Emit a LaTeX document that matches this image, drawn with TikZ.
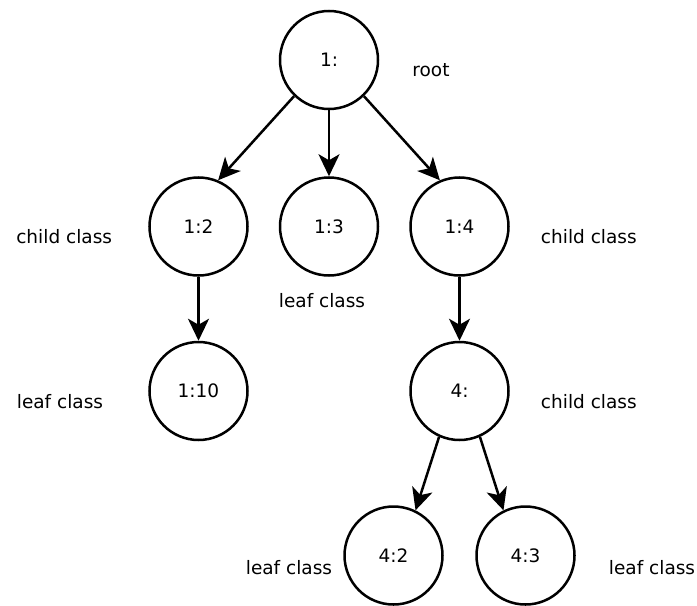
\documentclass[tikz,border=0pt]{standalone}
\usepackage{fontspec}
\setmainfont{DejaVu Sans}
\usepackage{tikz}
\usetikzlibrary{arrows.meta,positioning}

\begin{document}
\begin{tikzpicture}[
    x=1bp, y=1bp,
    font=\fontsize{18.5bp}{22bp}\selectfont,
    cls/.style={draw, circle, line width=2.5bp, minimum size=98bp, inner sep=0pt},
    note/.style={inner sep=0pt, text height=14bp, text depth=0pt},
    arr/.style={-{Stealth[length=22bp, width=21bp, inset=6bp]}, line width=2.5bp}
]
\useasboundingbox (0,0) rectangle (697,-606);
% tree of classes
\node[cls] (root) at (329,-60) {1:};
\node[cls, below=66bp of root] (n13) {1:3};
\node[cls, left=30bp of n13] (n12) {1:2};
\node[cls, right=30bp of n13] (n14) {1:4};
\node[cls, below=64bp of n12] (n110) {1:10};
\node[cls, below=64bp of n14] (n4) {4:};
\node[cls, below=64bp of n4, xshift=-66bp] (n42) {4:2};
\node[cls, below=64bp of n4, xshift=66bp] (n43) {4:3};
% side notes
\node[note, right=33bp of root, yshift=-10bp] (lroot) {root};
\node[note, left=36bp of n12, yshift=-10bp] (l12) {child class};
\node[note, below=17bp of n13, xshift=-7bp] (l13) {leaf class};
\node[note, right=31bp of n14, yshift=-10bp] (l14) {child class};
\node[note, left=45bp of n110, yshift=-10bp] (l110) {leaf class};
\node[note, right=31bp of n4, yshift=-10bp] (l4) {child class};
\node[note, left=11bp of n42, yshift=-12bp] (l42) {leaf class};
\node[note, right=33bp of n43, yshift=-12bp] (l43) {leaf class};
% edges
\draw[arr] (root.226) -- (n12.67);
\draw[arr] (root) -- (n13);
\draw[arr] (root.-46) -- (n14.113);
\draw[arr] (n12) -- (n110);
\draw[arr] (n14) -- (n4);
\draw[arr] (n4.246) -- (n42.64);
\draw[arr] (n4.294) -- (n43.116);
\end{tikzpicture}
\end{document}
